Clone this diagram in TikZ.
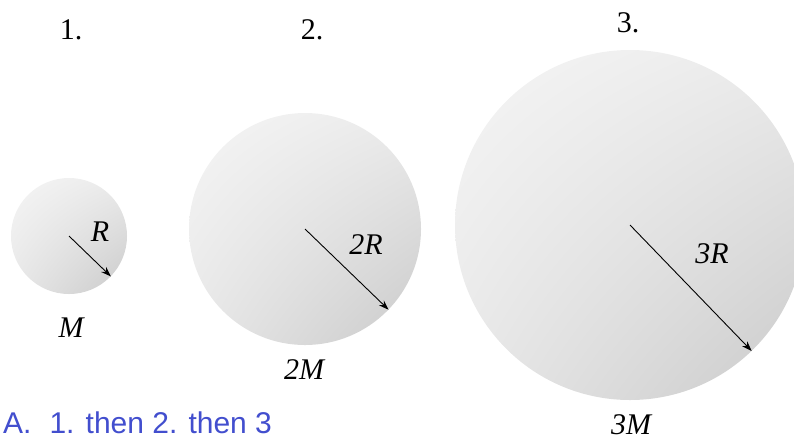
\documentclass[tikz,border=0pt]{standalone}
\usepackage{fontspec}
\setmainfont{Liberation Serif}
\newfontfamily\answerfont{Liberation Sans}
\usetikzlibrary{arrows.meta,shadings}
\definecolor{ansblue}{RGB}{66,78,206}
\tikzset{
  ball/.style={circle, inner sep=0pt, shade, upper left=black!4, upper right=black!8, lower left=black!9, lower right=black!21},
  radius arrow/.style={draw=black, line width=0.9pt, -{Stealth[length=10pt,width=7pt]}},
  numlabel/.style={anchor=base, font=\fontsize{30}{36}\selectfont},
  qty/.style={anchor=base, font=\fontsize{30}{36}\selectfont\itshape},
  answer/.style={anchor=base west, text=ansblue, inner sep=0pt, font=\answerfont\fontsize{30}{36}\selectfont}
}
\begin{document}
\begin{tikzpicture}[x=1pt,y=-1pt]
\useasboundingbox (0,0) rectangle (794,440);
\clip (0,0) rectangle (794,440);
% balls
\node[ball, minimum size=116pt] (b1) at (69,236) {};
\node[ball, minimum size=232pt] (b2) at (305,229) {};
\node[ball, minimum size=350pt] (b3) at (630,225) {};
% radius arrows
\draw[radius arrow] (b1.center) -- (b1.-44);
\draw[radius arrow] (b2.center) -- (b2.-44);
\draw[radius arrow] (b3.center) -- (b3.-46);
% numbers
\node[numlabel] (n1) at (71,39) {1.};
\node[numlabel] (n2) at (312,39) {2.};
\node[numlabel] (n3) at (628,32) {3.};
% radius labels
\node[qty] (r1) at (100,241) {R};
\node[qty] (r2) at (366,254) {2R};
\node[qty] (r3) at (712,263) {3R};
% mass labels
\node[qty] (m1) at (71,337) {M};
\node[qty] (m2) at (304,379) {2M};
\node[qty] (m3) at (631,434) {3M};
% answer
\node[answer] (ans) at (3,433) {A.\hspace{0.6em}1. then 2. then 3};
\end{tikzpicture}
\end{document}
